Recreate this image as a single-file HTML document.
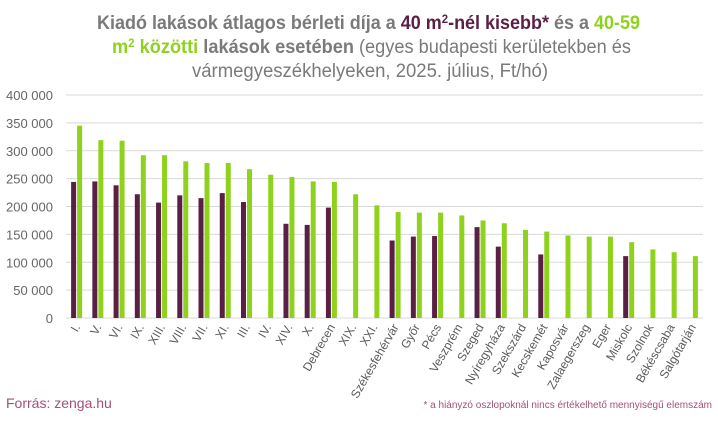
<!DOCTYPE html>
<html><head><meta charset="utf-8"><style>
body{margin:0;background:#fff;width:718px;height:416px;overflow:hidden;font-family:"Liberation Sans",sans-serif}
</style></head><body>
<svg id="chart" width="718" height="416" xmlns="http://www.w3.org/2000/svg" font-family="Liberation Sans, sans-serif">
<g font-size="19" text-anchor="start">
<text x="97" y="29" textLength="543" lengthAdjust="spacingAndGlyphs" fill="#7a7a7a" font-weight="bold">Kiadó lakások átlagos bérleti díja a <tspan fill="#5a1f44">40 m<tspan font-size="12" dy="-6">2</tspan><tspan dy="6">-nél kisebb*</tspan></tspan> és a <tspan fill="#8fd21e">40-59</tspan></text>
<text x="112" y="53" textLength="519" lengthAdjust="spacingAndGlyphs" fill="#7a7a7a"><tspan fill="#8fd21e" font-weight="bold">m<tspan font-size="12" dy="-6">2</tspan><tspan dy="6"> közötti</tspan></tspan><tspan font-weight="bold"> lakások esetében</tspan> (egyes budapesti kerületekben és</text>
<text x="192" y="77" textLength="356" lengthAdjust="spacingAndGlyphs" fill="#7a7a7a">vármegyeszékhelyeken, 2025. július, Ft/hó)</text>
</g>
<g id="grid"></g><g id="bars"></g><g id="xlabels"></g>
<text x="6" y="408" font-size="14" fill="#a0507a">Forrás: zenga.hu</text>
<text x="712" y="408" font-size="10" fill="#a0507a" text-anchor="end">* a hiányzó oszlopoknál nincs értékelhető mennyiségű elemszám</text>
</svg>
<script>
const categories=["I.","V.","VI.","IX.","XIII.","VIII.","VII.","XI.","III.","IV.","XIV.","X.","Debrecen","XIX.","XXI.","Székesfehérvár","Győr","Pécs","Veszprém","Szeged","Nyíregyháza","Szekszárd","Kecskemét","Kaposvár","Zalaegerszeg","Eger","Miskolc","Szolnok","Békéscsaba","Salgótarján"];
const small=[244000,245000,238000,222000,207000,220000,215000,224000,208000,null,169000,167000,198000,null,null,139000,146000,147000,null,163000,128000,null,114000,null,null,null,111000,null,null,null];
const mid=[345000,319000,318000,292000,292000,281000,278000,278000,267000,257000,253000,245000,244000,222000,202000,190000,189000,189000,184000,175000,170000,158000,155000,148000,146000,146000,136000,123000,118000,111000];
const ticks=[0,50000,100000,150000,200000,250000,300000,350000,400000];
const NS="http://www.w3.org/2000/svg";
const x0=66,x1=703,yBase=318,yTop=95,maxV=400000;
const y=v=>yBase-(v/maxV)*(yBase-yTop);
const step=(x1-x0)/categories.length;
const xc=i=>x0+step*(i+0.5);
function mk(t,a,p){const e=document.createElementNS(NS,t);for(const k in a)e.setAttribute(k,a[k]);p.appendChild(e);return e;}
const grid=document.getElementById('grid'),bars=document.getElementById('bars'),xl=document.getElementById('xlabels');
ticks.forEach(t=>{
 const l=mk('line',{x1:x0,x2:x1,y1:y(t),y2:y(t),stroke:'#d9d9d9','stroke-width':1},grid);
 
 
 const tx=mk('text',{x:53,y:y(t)+5,'font-size':13,fill:'#666','text-anchor':'end'},grid);
 tx.textContent=t===0?'0':(t/1000)+' 000';
 
 
});
categories.forEach((c,i)=>{
 const cx=xc(i);
 if(small[i]!=null){
  const r=mk('rect',{x:cx-5.5,y:y(small[i]),width:5,height:yBase-y(small[i]),fill:'#5a1f44'},bars);
  
  
 }
 const g=mk('rect',{x:cx+0.5,y:y(mid[i]),width:5,height:yBase-y(mid[i]),fill:'#8fd21e'},bars);
 
 
 const t=mk('text',{x:cx+4,y:327,'font-size':12,fill:'#595959','text-anchor':'end',transform:`rotate(-60 ${cx+4} 327)`},xl);
 t.textContent=c;
 
 
});
</script>
</body></html>
